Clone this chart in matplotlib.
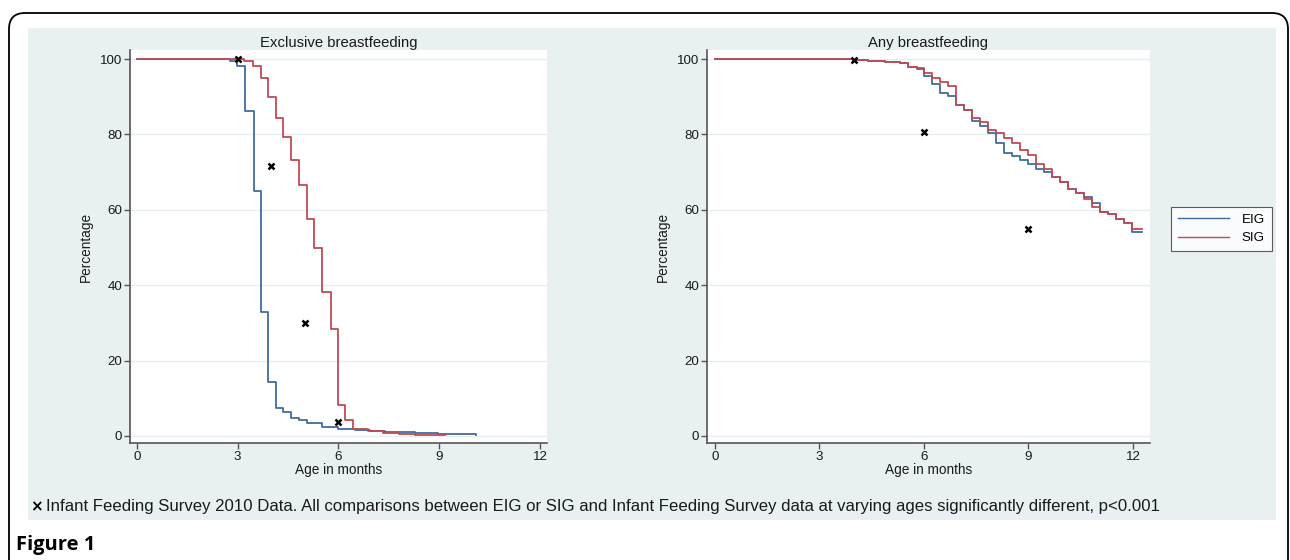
import matplotlib
matplotlib.use("Agg")
import matplotlib.pyplot as plt
from matplotlib.patches import Rectangle, FancyBboxPatch
from matplotlib.lines import Line2D

plt.rcParams['font.family'] = ['Liberation Sans', 'DejaVu Sans']

# ---------------- data ----------------
ex_eig_t = [0, 2.77, 2.97, 3.22, 3.47, 3.68, 3.91, 4.13, 4.36, 4.60, 4.82, 5.05, 5.50, 6.00, 6.49, 6.94, 7.39, 8.28, 8.96, 10.10]
ex_eig_v = [100, 99.6, 98.1, 86.2, 64.9, 32.8, 14.4, 7.5, 6.3, 4.7, 4.2, 3.4, 2.5, 1.9, 1.6, 1.2, 1.0, 0.7, 0.4, 0.3]

ex_sig_t = [0, 3.20, 3.45, 3.68, 3.91, 4.13, 4.36, 4.60, 4.82, 5.07, 5.27, 5.52, 5.77, 5.98, 6.19, 6.44, 6.89, 7.34, 7.80, 8.28, 9.17]
ex_sig_v = [100, 99.5, 98.1, 95.0, 90.0, 84.3, 79.2, 73.2, 66.6, 57.6, 49.9, 38.1, 28.3, 8.2, 4.2, 1.8, 1.2, 0.7, 0.5, 0.3, 0.2]

ex_ifs_x = [3, 4, 5, 6]
ex_ifs_y = [100, 71.7, 29.9, 3.8]

any_t = [0, 3.96, 4.40, 4.88, 5.31, 5.55, 5.79, 6.01, 6.24, 6.46, 6.70, 6.91, 7.15, 7.38, 7.61,
         7.84, 8.07, 8.30, 8.54, 8.76, 9.00, 9.22, 9.45, 9.68, 9.91, 10.13, 10.36, 10.59, 10.83,
         11.05, 11.29, 11.51, 11.74, 11.98, 12.25]
any_eig_v = [100, 99.8, 99.6, 99.3, 99.0, 98.0, 97.3, 95.6, 93.5, 91.1, 90.2, 87.8, 86.5, 83.6, 82.3,
             80.4, 77.8, 75.0, 74.3, 73.2, 72.1, 70.7, 70.0, 68.8, 67.5, 65.5, 64.4, 63.5, 61.9,
             59.5, 58.8, 57.6, 56.6, 54.0, 54.0]
any_sig_v = [100, 99.8, 99.6, 99.3, 99.0, 98.0, 97.5, 96.2, 94.9, 94.0, 92.8, 87.8, 86.5, 84.3, 83.2,
             81.3, 80.5, 79.1, 77.6, 75.9, 74.5, 72.1, 70.8, 68.8, 67.5, 65.5, 64.4, 62.8, 60.8,
             59.5, 58.8, 57.6, 56.6, 54.8, 54.8]

any_ifs_x = [4, 6, 9]
any_ifs_y = [99.7, 80.7, 54.8]

x_ticks = [0, 3, 6, 9, 12]
y_ticks = [0, 20, 40, 60, 80, 100]
titles = ["Exclusive breastfeeding", "Any breastfeeding"]
series_names = ["EIG", "SIG"]
footnote = ("Infant Feeding Survey 2010 Data. All comparisons between EIG or SIG and Infant "
            "Feeding Survey data at varying ages significantly different, p<0.001")

# ---------------- style ----------------
W, H = 1290, 560
C_EIG = '#3f6c9c'
C_SIG = '#c04a56'
PANEL = '#e8f0f2'
GRID = '#e6eef0'
AX = '#555555'
TXT = '#1a1a1a'

fig = plt.figure(figsize=(W / 100, H / 100), dpi=100)
fig.patch.set_facecolor('white')

bg = fig.add_axes([0, 0, 1, 1], zorder=-5)
bg.set_xlim(0, W)
bg.set_ylim(H, 0)
bg.axis('off')
bg.add_patch(FancyBboxPatch((9, 13), 1279, 620, boxstyle="round,pad=0,rounding_size=16",
                            fc='white', ec='black', lw=1.3))
bg.add_patch(Rectangle((28, 28), 1248, 492, fc=PANEL, ec='none'))


def px_axes(l, t, r, b):
    return [l / W, 1 - b / H, (r - l) / W, (b - t) / H]


def style(ax, xlim):
    ax.set_facecolor('white')
    ax.set_xlim(*xlim)
    ax.set_ylim(-1.86, 102.4)
    ax.set_xticks(x_ticks)
    ax.set_yticks(y_ticks)
    for s in ['top', 'right']:
        ax.spines[s].set_visible(False)
    for s in ['left', 'bottom']:
        ax.spines[s].set_color(AX)
        ax.spines[s].set_linewidth(1.2)
    ax.tick_params(direction='out', length=4, width=1, color=AX, labelsize=9.6,
                   labelcolor=TXT, pad=1.5)
    ax.yaxis.grid(True, color=GRID, lw=1)
    ax.set_axisbelow(True)
    ax.set_ylabel("Percentage", fontsize=9.8, color=TXT, labelpad=5)
    ax.set_xlabel("Age in months", fontsize=9.8, color=TXT, labelpad=0)


ax1 = fig.add_axes(px_axes(130, 50, 547, 443))
style(ax1, (-0.208, 12.21))
ax1.step(ex_eig_t + [ex_eig_t[-1]], ex_eig_v + [ex_eig_v[-1]], where='post', color=C_EIG, lw=1.3)
ax1.step(ex_sig_t, ex_sig_v, where='post', color=C_SIG, lw=1.3)
ax1.plot(ex_ifs_x, ex_ifs_y, 'x', color='black', ms=5, mew=1.8, zorder=5)
ax1.set_title(titles[0], fontsize=10.7, pad=2, color=TXT)

ax2 = fig.add_axes(px_axes(707, 50, 1150, 443))
style(ax2, (-0.23, 12.49))
ax2.step(any_t, any_eig_v, where='post', color=C_EIG, lw=1.3)
ax2.step(any_t, any_sig_v, where='post', color=C_SIG, lw=1.3)
ax2.plot(any_ifs_x, any_ifs_y, 'x', color='black', ms=5, mew=1.8, zorder=5)
ax2.set_title(titles[1], fontsize=10.7, pad=2, color=TXT)

handles = [Line2D([], [], color=C_EIG, lw=1.0), Line2D([], [], color=C_SIG, lw=1.0)]
leg = fig.legend(handles, series_names, loc='center', bbox_to_anchor=(1221.5 / W, 1 - 229 / H),
                 fontsize=9.6, handlelength=3.8, frameon=True, fancybox=False,
                 borderpad=0.5, labelspacing=0.45, handletextpad=1.0, borderaxespad=0)
leg.get_frame().set_edgecolor('#333333')
leg.get_frame().set_linewidth(0.8)

fig.text(36 / W, 1 - 507 / H, "×", fontsize=11, fontweight='bold', va='center', ha='center',
         family=['DejaVu Sans'])
fig.text(46 / W, 1 - 507 / H, footnote, fontsize=12.1, va='center', ha='left', color=TXT)
fig.text(16 / W, 1 - 545 / H, "Figure 1", fontsize=14.5, fontweight='bold', va='center', ha='left',
         family=['Open Sans', 'DejaVu Sans'])

fig.savefig("out.png", dpi=100, facecolor='white')
